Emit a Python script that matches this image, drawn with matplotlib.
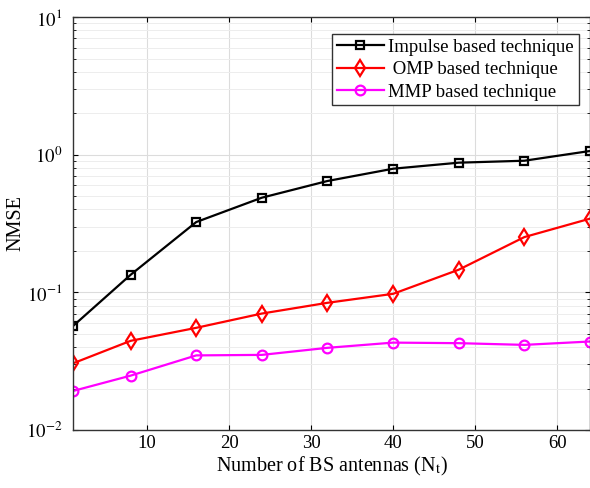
import numpy as np
import matplotlib.pyplot as plt

plt.rcParams['font.family'] = ['Liberation Serif', 'DejaVu Serif']
plt.rcParams['mathtext.fontset'] = 'stix'

# Data
antennas = [1, 8, 16, 24, 32, 40, 48, 56, 64]
nmse_impulse = [0.057, 0.134, 0.324, 0.487, 0.644, 0.791, 0.875, 0.904, 1.064]
nmse_omp = [0.0305, 0.0444, 0.0552, 0.0701, 0.0839, 0.0975, 0.146, 0.252, 0.343]
nmse_mmp = [0.0192, 0.0248, 0.0348, 0.0351, 0.0395, 0.0431, 0.0427, 0.0415, 0.0439]

fig = plt.figure(figsize=(5.9, 4.88), dpi=100)
ax = fig.add_axes([0.124, 0.119, 0.876, 0.846])

ax.semilogy(antennas, nmse_impulse, color='black', marker='s', markersize=6,
            markerfacecolor='none', markeredgewidth=1.6, linewidth=1.6,
            label='Impulse based technique')
ax.semilogy(antennas, nmse_omp, color='#ff0000', marker='d', markersize=8,
            markerfacecolor='none', markeredgewidth=1.6, linewidth=1.6,
            label=' OMP based technique')
ax.semilogy(antennas, nmse_mmp, color='#ff00ff', marker='o', markersize=7,
            markerfacecolor='none', markeredgewidth=1.6, linewidth=1.6,
            label='MMP based technique')

ax.set_xlim(1, 64)
ax.set_ylim(1e-2, 1e1)
ax.set_xticks([10, 20, 30, 40, 50, 60])
ax.set_yticks([1e-2, 1e-1, 1e0, 1e1])
ax.set_yticklabels([r'$10^{-2}$', r'$10^{-1}$', r'$10^{0}$', r'$10^{1}$'])

ax.grid(True, which='major', color='#dcdcdc', linewidth=0.8)
ax.grid(True, which='minor', axis='y', color='#ededed', linewidth=0.7)
ax.tick_params(which='both', direction='in', labelsize=13.5, top=True, right=True)
ax.tick_params(axis='y', which='major', pad=8)
for s in ax.spines.values():
    s.set_color('#333333')
    s.set_linewidth(1.0)

ax.set_xlabel('Number of BS antennas (N$_\\mathrm{t}$)', fontsize=14.5, labelpad=2)
ax.set_ylabel('NMSE', fontsize=14.5)
ax.yaxis.set_label_coords(-0.093, 0.5)

leg = ax.legend(loc='upper right', bbox_to_anchor=(0.978, 0.959), fontsize=13.5,
                fancybox=False, edgecolor='#333333', framealpha=1,
                handlelength=2.5, borderpad=0.25, labelspacing=0.28,
                handletextpad=0.25, borderaxespad=0)
leg.get_frame().set_linewidth(1.0)

fig.savefig('out.png', dpi=100)
